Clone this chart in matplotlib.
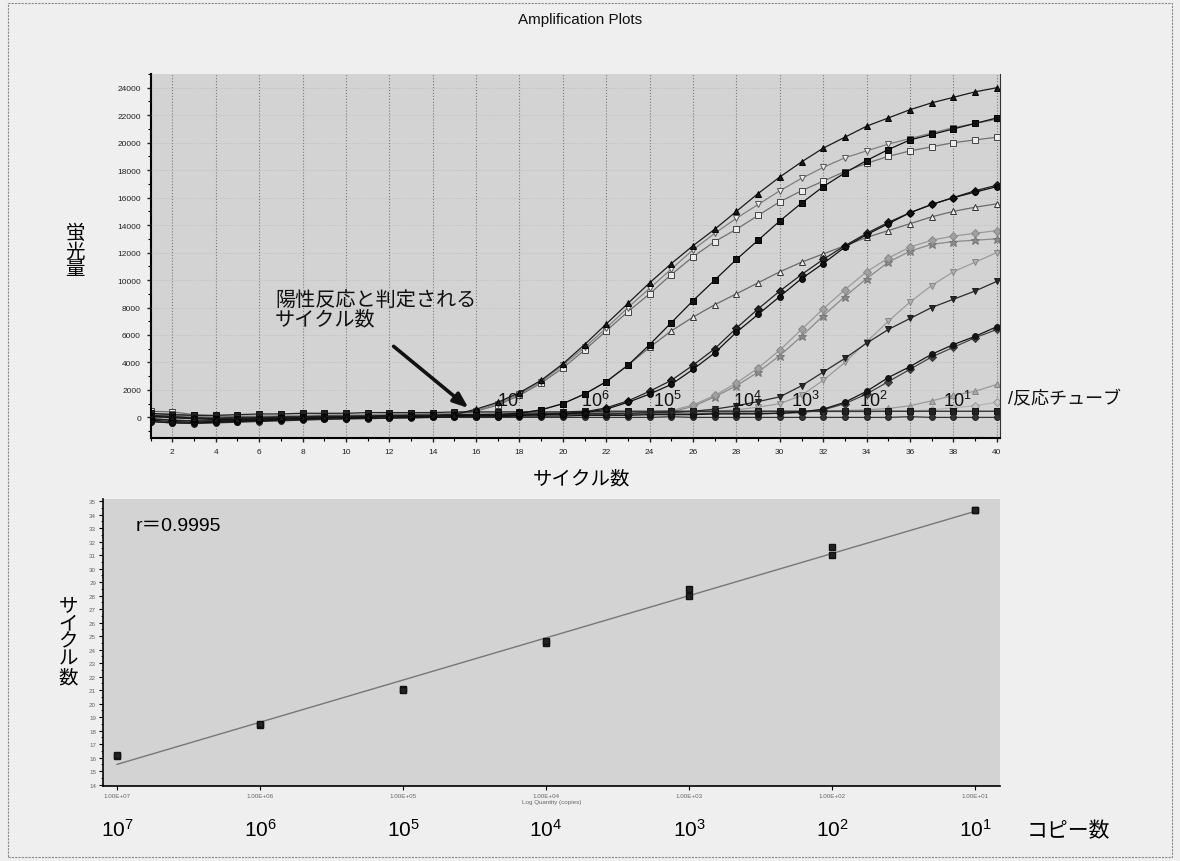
import numpy as np
import matplotlib
matplotlib.use('Agg')
import matplotlib.pyplot as plt
from matplotlib.patches import Rectangle
from matplotlib.ticker import MultipleLocator, FixedLocator, NullLocator

plt.rcParams['font.family'] = ['Liberation Sans', 'Noto Sans CJK JP', 'DejaVu Sans']
plt.rcParams['mathtext.fontset'] = 'custom'
plt.rcParams['mathtext.rm'] = 'Liberation Sans'
plt.rcParams['mathtext.it'] = 'Liberation Sans'

#----増幅曲線のデータ (サイクル 1..40)----
cycles = np.arange(1, 41)

tri_up_1e7 = [150, 50, -50, -100, -100, -50, 0, 0, 50, 50, 100, 100, 150, 150, 200,
              600, 1100, 1800, 2700, 3900, 5300, 6800, 8300, 9800, 11200, 12500, 13700, 15000, 16300, 17500,
              18600, 19600, 20400, 21200, 21800, 22400, 22900, 23300, 23700, 24000]
tri_dn_1e7 = [300, 250, 100, 0, -50, -50, 0, 50, 50, 100, 100, 150, 150, 200, 250,
              500, 1000, 1700, 2600, 3800, 5100, 6500, 8000, 9400, 10800, 12200, 13400, 14500, 15500, 16500,
              17400, 18200, 18900, 19400, 19900, 20300, 20700, 21100, 21400, 21700]
sq_open_1e7 = [450, 400, 200, 100, 50, 50, 50, 100, 100, 100, 150, 150, 200, 200, 250,
               450, 900, 1600, 2500, 3600, 4900, 6300, 7700, 9000, 10400, 11700, 12800, 13700, 14700, 15700,
               16500, 17200, 17900, 18500, 19000, 19400, 19700, 20000, 20200, 20400]
sq_fill_1e6 = [100, 0, -100, -150, -150, -100, -50, 0, 0, 50, 50, 100, 100, 150, 150, 200, 200,
               300, 550, 1000, 1700, 2600, 3800, 5300, 6900, 8500, 10000, 11500, 12900, 14300, 15600,
               16800, 17800, 18700, 19500, 20200, 20600, 21000, 21400, 21800]
tri_open_1e6 = [200, 100, 0, -50, -100, -50, 0, 0, 50, 50, 100, 100, 150, 150, 200, 200, 250,
                300, 550, 1000, 1700, 2600, 3800, 5100, 6300, 7300, 8200, 9000, 9800, 10600, 11300,
                11900, 12500, 13100, 13600, 14100, 14600, 15000, 15300, 15550]
circ_1e5 = [-200, -300, -350, -300, -250, -200, -150, -100, -50, 0, 0, 50, 50, 100, 100, 150, 150, 150, 200,
            250, 350, 600, 1100, 1700, 2400, 3500, 4700, 6200, 7500, 8800, 10100, 11200, 12400, 13300,
            14100, 14900, 15500, 16000, 16400, 16800]
dia_1e5 = [-100, -200, -250, -250, -200, -150, -100, -50, 0, 0, 50, 50, 100, 100, 150, 150, 200, 200, 250,
           300, 400, 700, 1200, 1900, 2700, 3800, 5000, 6500, 7900, 9200, 10400, 11500, 12500, 13400,
           14200, 14900, 15500, 16000, 16500, 16900]
star_1e4 = [0, -50, -100, -100, -50, 0, 0, 50, 50, 100, 100, 150, 150, 200, 200, 200, 250, 250, 250, 300,
            300, 300, 300, 350, 400, 800, 1500, 2300, 3300, 4500, 5900, 7400, 8800, 10100, 11300, 12100,
            12600, 12800, 12900, 13000]
dia_gray_1e4 = [100, 50, 0, 0, 50, 50, 100, 100, 100, 150, 150, 150, 200, 200, 200, 250, 250, 250, 300, 300,
                300, 300, 350, 400, 500, 900, 1600, 2500, 3600, 4900, 6400, 7900, 9300, 10600, 11600, 12400,
                12900, 13200, 13400, 13600]
tri_dn_gray_1e3 = [250, 200, 150, 100, 100, 100, 150, 150, 200, 200, 200, 250, 250, 250, 300, 300, 300, 300,
                   350, 350, 350, 350, 400, 400, 400, 400, 450, 550, 750, 1000, 1600, 2700, 4000, 5500, 7000,
                   8400, 9600, 10600, 11300, 12000]
tri_dn_fill_1e3 = [50, 0, -50, -50, 0, 0, 50, 50, 100, 100, 100, 150, 150, 150, 200, 200, 200, 250, 250, 250,
                   300, 300, 300, 350, 350, 450, 600, 850, 1150, 1500, 2300, 3300, 4300, 5400, 6400, 7200,
                   8000, 8600, 9200, 9900]
circ_1e2 = [-300, -400, -400, -350, -300, -250, -200, -150, -100, -100, -50, -50, 0, 0, 50, 50, 50, 100, 100,
            100, 150, 150, 150, 200, 200, 200, 250, 250, 250, 300, 400, 600, 1100, 1900, 2900, 3700, 4600,
            5300, 5900, 6600]
dia_1e2 = [-100, -200, -250, -250, -200, -150, -100, -50, 0, 0, 50, 50, 100, 100, 100, 150, 150, 150, 200, 200,
           200, 200, 250, 250, 250, 250, 300, 300, 300, 300, 350, 550, 1000, 1700, 2600, 3500, 4400, 5100,
           5800, 6400]
tri_gray_1e1 = [200, 150, 100, 50, 50, 100, 100, 150, 150, 200, 200, 200, 250, 250, 250, 300, 300, 300, 300,
                350, 350, 350, 350, 400, 400, 400, 400, 400, 450, 450, 450, 450, 500, 550, 650, 850, 1200,
                1600, 1900, 2400]
dia_light_1e1 = [100, 50, 0, 0, 50, 50, 100, 100, 150, 150, 150, 200, 200, 200, 250, 250, 250, 250, 300, 300,
                 300, 300, 300, 350, 350, 350, 350, 350, 400, 400, 400, 400, 400, 400, 450, 450, 550, 700,
                 850, 1100]
ntc_sq = [300, 200, 150, 150, 200, 250, 250, 300, 300, 300, 350, 350, 350, 350, 400, 400, 400, 400, 400, 400,
          450, 450, 450, 450, 450, 450, 450, 450, 450, 450, 450, 450, 450, 450, 450, 450, 450, 450, 450, 450]
ntc_circ = [-300, -400, -450, -400, -350, -300, -250, -200, -150, -100, -100, -50, -50, 0, 0, 0, 0, 0, 0, 0,
            0, 0, 0, 0, 50, 0, 0, 0, 0, 0, 0, 0, 0, 0, 0, 50, 0, 0, 0, 0]

#----検量線のデータ----
copies = [1e7, 1e7, 1e6, 1e6, 1e5, 1e5, 1e4, 1e4, 1e3, 1e3, 1e2, 1e2, 1e1, 1e1]
ct_values = [16.1, 16.2, 18.4, 18.5, 21.1, 21.0, 24.5, 24.6, 28.0, 28.5, 31.0, 31.6, 34.3, 34.35]

dilution_labels = ['$10^{7}$', '$10^{6}$', '$10^{5}$', '$10^{4}$', '$10^{3}$', '$10^{2}$', '$10^{1}$']
dilution_label_cycles = [17.6, 21.5, 24.8, 28.5, 31.2, 34.3, 38.2]
decades = [1e7, 1e6, 1e5, 1e4, 1e3, 1e2, 1e1]
decade_ticklabels = ['1.00E+07', '1.00E+06', '1.00E+05', '1.00E+04', '1.00E+03', '1.00E+02', '1.00E+01']

# (データ, マーカー, 線色, 塗り色, 縁色)  薄い色から先に描く
series = [
    (dia_light_1e1, 'D', '#b4b4b4', '#c4c4c4', '#999999'),
    (tri_gray_1e1, '^', '#9a9a9a', '#a8a8a8', '#888888'),
    (tri_dn_gray_1e3, 'v', '#9c9c9c', '#b0b0b0', '#888888'),
    (star_1e4, '*', '#8a8a8a', '#8a8a8a', '#777777'),
    (dia_gray_1e4, 'D', '#9a9a9a', '#a0a0a0', '#888888'),
    (tri_open_1e6, '^', '#6a6a6a', '#ececec', '#333333'),
    (sq_open_1e7, 's', '#707070', '#ececec', '#444444'),
    (tri_dn_1e7, 'v', '#808080', '#f0f0f0', '#555555'),
    (ntc_sq, 's', '#222222', '#222222', '#111111'),
    (ntc_circ, 'o', '#333333', '#333333', '#222222'),
    (dia_1e2, 'D', '#444444', '#444444', '#333333'),
    (circ_1e2, 'o', '#151515', '#151515', '#111111'),
    (tri_dn_fill_1e3, 'v', '#2a2a2a', '#2a2a2a', '#1a1a1a'),
    (dia_1e5, 'D', '#222222', '#222222', '#111111'),
    (circ_1e5, 'o', '#111111', '#111111', '#000000'),
    (sq_fill_1e6, 's', '#111111', '#111111', '#000000'),
    (tri_up_1e7, '^', '#1a1a1a', '#1a1a1a', '#000000'),
]

fig = plt.figure(figsize=(11.8, 8.62), dpi=100, facecolor='#efefef')
fig.patches.append(Rectangle((8 / 1180, 1 - 858 / 862), 1164 / 1180, 854 / 862, transform=fig.transFigure,
                             fill=False, edgecolor='#8a8a8a', lw=0.8, linestyle=(0, (2, 1))))

#----上段: 増幅曲線----
ax1 = fig.add_axes([150.7 / 1180, 1 - 439 / 862, (1000 - 150.7) / 1180, (439 - 75) / 862])
ax1.set_facecolor('#d3d3d3')
for vals, mk, lc, fc, ec in series:
    ms = 6.5 if mk == '*' else 4.2
    ax1.plot(cycles, vals, color=lc, lw=0.9, marker=mk, ms=ms, mfc=fc, mec=ec, mew=0.7)

ax1.set_xlim(1.0, 40.15)
ax1.set_ylim(-1500, 25000)
ax1.xaxis.set_major_locator(MultipleLocator(2))
ax1.xaxis.set_minor_locator(MultipleLocator(1))
ax1.yaxis.set_major_locator(FixedLocator(np.arange(0, 24001, 2000)))
ax1.yaxis.set_minor_locator(MultipleLocator(1000))
ax1.ticklabel_format(style='plain', axis='y')
ax1.tick_params(which='major', labelsize=6, length=3, width=1, colors='#222222', pad=4)
ax1.tick_params(which='minor', length=2, width=0.8)
ax1.grid(axis='x', which='major', color='#7a7a7a', ls=':', lw=0.8)
ax1.grid(axis='y', which='major', color='#bbbbbb', ls=':', lw=0.6)
ax1.spines['top'].set_visible(False)
ax1.spines['right'].set_color('#333333')
ax1.spines['left'].set_linewidth(1.5)
ax1.spines['bottom'].set_linewidth(1.5)

for lab, cx in zip(dilution_labels, dilution_label_cycles):
    ax1.text(cx, 1300, lab, fontsize=13, ha='center', va='center', color='#111111')

ax1.annotate('', xy=(15.75, 550), xytext=(12.1, 5300),
             arrowprops=dict(arrowstyle='-|>,head_length=0.9,head_width=0.35', color='#111111', lw=2.6))

fig.text(275 / 1180, 1 - 310 / 862, '陽性反応と判定される\nサイクル数', fontsize=14.5,
         ha='left', va='center', linespacing=1.05, color='#111111')
fig.text(1008 / 1180, 1 - 400 / 862, '/反応チューブ', fontsize=13, ha='left', va='center', color='#111111')
fig.text(580 / 1180, 1 - 20 / 862, 'Amplification Plots', fontsize=11, ha='center', va='center', color='#111111')
fig.text(75 / 1180, 1 - 252 / 862, '蛍\n光\n量', fontsize=14, ha='center', va='center', linespacing=1.0)
fig.text(582 / 1180, 1 - 480 / 862, 'サイクル数', fontsize=14, ha='center', va='center')

#----下段: 検量線----
ax2 = fig.add_axes([103 / 1180, 1 - 787 / 862, (1000 - 103) / 1180, 287 / 862])
ax2.set_facecolor('#d3d3d3')
ax2.set_xscale('log')
logc = np.log10(copies)
slope, icpt = np.polyfit(logc, ct_values, 1)
fit_x = np.array([1e7, 1e1])
ax2.plot(fit_x, slope * np.log10(fit_x) + icpt, color='#777777', lw=1.0)
ax2.plot(copies, ct_values, ls='none', marker='s', ms=5, color='#222222', mec='#111111')
ax2.set_xlim(10 ** 7.098, 10 ** 0.825)
ax2.set_ylim(13.9, 35.15)
ax2.xaxis.set_major_locator(FixedLocator(decades))
ax2.xaxis.set_minor_locator(NullLocator())
ax2.set_xticklabels(decade_ticklabels)
ax2.yaxis.set_major_locator(MultipleLocator(1))
ax2.yaxis.set_minor_locator(MultipleLocator(0.5))
ax2.tick_params(which='major', labelsize=4.5, length=3, labelcolor='#666666', pad=2)
ax2.tick_params(which='minor', length=1.5)
ax2.set_xlabel('Log Quantity (copies)', fontsize=4.5, color='#666666', labelpad=1)
ax2.spines['top'].set_visible(False)
ax2.spines['right'].set_visible(False)
ax2.spines['left'].set_linewidth(1.2)
ax2.spines['bottom'].set_linewidth(1.2)

ax2.text(0.036, 0.906, 'r＝0.9995', transform=ax2.transAxes, fontsize=14, ha='left', va='center',
         family=['Liberation Sans', 'Noto Sans CJK JP'])
for d, lab in zip(decades, dilution_labels):
    ax2.text(d, -0.15, lab, transform=ax2.get_xaxis_transform(), fontsize=15, ha='center', va='center')
fig.text(1068 / 1180, 1 - 831 / 862, 'コピー数', fontsize=15, ha='center', va='center')
fig.text(68 / 1180, 1 - 643 / 862, 'サ\nイ\nク\nル\n数', fontsize=14, ha='center', va='center', linespacing=1.05)

fig.savefig('out.png', dpi=100, facecolor=fig.get_facecolor())
print('saved')
